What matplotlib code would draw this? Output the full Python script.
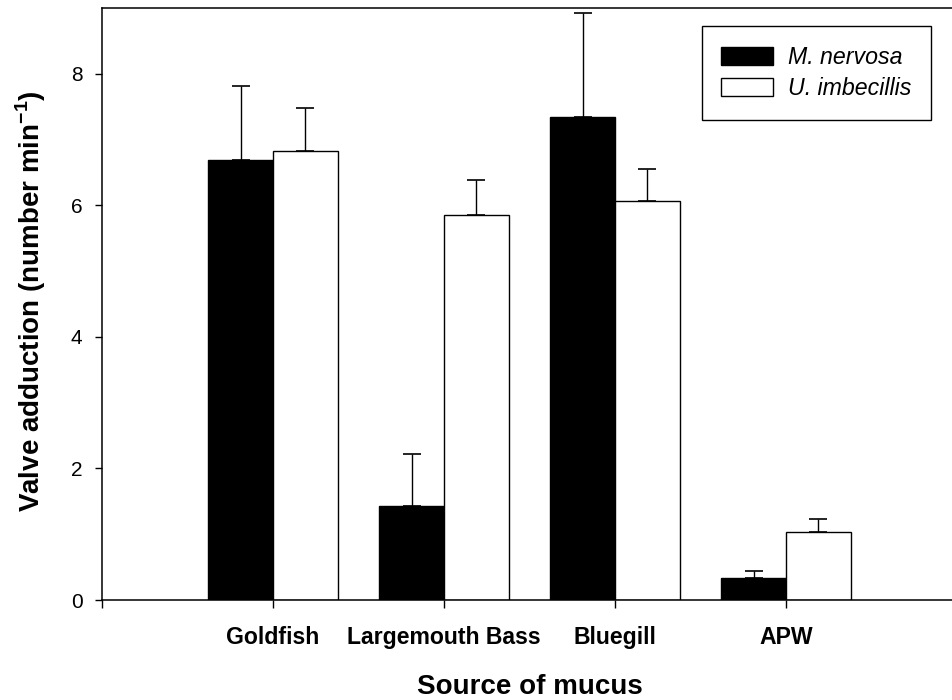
import numpy as np
import matplotlib
matplotlib.use("Agg")
import matplotlib.pyplot as plt

plt.rcParams['font.family'] = ['Liberation Sans', 'DejaVu Sans']
plt.rcParams['mathtext.fontset'] = 'custom'
plt.rcParams['mathtext.rm'] = 'Liberation Sans'
plt.rcParams['mathtext.bf'] = 'Liberation Sans:bold'

# data
sources = ["Goldfish", "Largemouth Bass", "Bluegill", "APW"]
nervosa_mean = [6.69, 1.43, 7.34, 0.33]
nervosa_err = [1.12, 0.79, 1.58, 0.11]
imbecillis_mean = [6.82, 5.85, 6.06, 1.03]
imbecillis_err = [0.66, 0.53, 0.49, 0.20]

x = np.arange(1, len(sources) + 1)
width = 0.38

fig = plt.figure(figsize=(9.52, 7.0), dpi=100)
ax = fig.add_axes([102 / 952, 100 / 700, 855 / 952, 592 / 700])

ax.bar(x - width / 2, nervosa_mean, width, color="black", edgecolor="black",
       linewidth=1.0, label="M. nervosa", zorder=2)
ax.bar(x + width / 2, imbecillis_mean, width, color="white", edgecolor="black",
       linewidth=1.0, label="U. imbecillis", zorder=2)

# upper error bars only
ax.errorbar(x - width / 2, nervosa_mean, yerr=[np.zeros(4), nervosa_err],
            fmt="none", ecolor="black", elinewidth=1.0, capsize=6.8,
            capthick=1.2, zorder=1)
ax.errorbar(x + width / 2, imbecillis_mean, yerr=[np.zeros(4), imbecillis_err],
            fmt="none", ecolor="black", elinewidth=1.0, capsize=6.8,
            capthick=1.2, zorder=1)

ax.set_xlim(0, 5)
ax.set_ylim(0, 9)
ax.set_xticks([0, 1, 2, 3, 4, 5])
ax.set_xticklabels([""] + sources + [""], fontweight="bold", fontsize=16.6)
ax.set_yticks([0, 2, 4, 6, 8])
ax.tick_params(axis="y", direction="out", length=5, width=1.0, pad=9, labelsize=15)
ax.tick_params(axis="x", direction="out", length=6, width=1.0, pad=13)

for side in ["left", "top", "bottom"]:
    ax.spines[side].set_linewidth(1.1)
ax.spines["right"].set_visible(False)

ax.set_xlabel("Source of mucus", fontsize=20, fontweight="bold", labelpad=18)
ax.set_ylabel(r"Valve adduction (number min$^{\mathbf{-1}}$)", fontsize=20,
              fontweight="bold")
ax.yaxis.set_label_coords(-0.063, 0.505)

leg = ax.legend(loc="upper right", bbox_to_anchor=(0.970, 0.9696),
                borderaxespad=0, fancybox=False, edgecolor="black",
                framealpha=1, prop={"style": "italic", "size": 16.7},
                handlelength=2.24, handleheight=0.82, handletextpad=0.65,
                borderpad=0.85, labelspacing=0.35)
leg.get_frame().set_linewidth(1.0)

fig.savefig("out.png", dpi=100)
